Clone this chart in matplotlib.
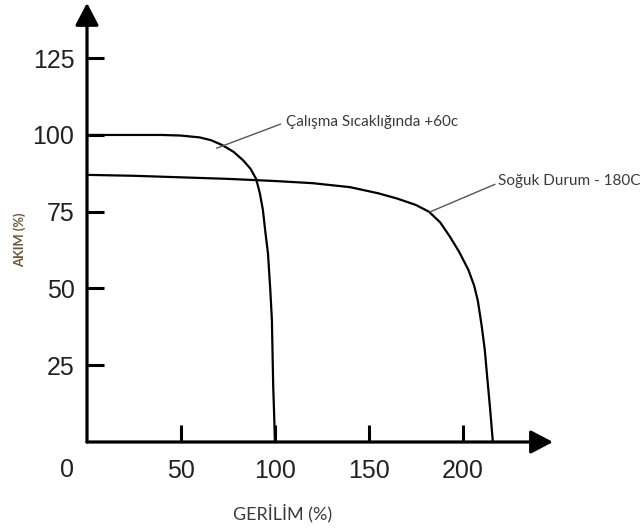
import matplotlib.pyplot as plt

# curve readings (voltage %, current %)
hot_x = [0, 20, 40, 50, 60, 66, 72, 78, 83, 87, 90, 92, 93.6, 95, 96.3, 97.5, 98.4, 99.1, 99.6, 100]
hot_y = [100, 100, 100, 99.8, 99.2, 98.3, 96.7, 94.5, 91.8, 89, 85.7, 81, 75.6, 68, 61.5, 50, 39.7, 18, 9, 0]

cold_x = [0, 25, 50, 75, 100, 120, 140, 155, 165, 175, 182, 188, 193, 198, 203, 206, 208, 210, 211.7, 213, 214.5, 216]
cold_y = [87, 86.7, 86.2, 85.7, 85, 84.3, 83, 81, 79.3, 77.2, 75, 71.5, 67, 62, 56, 51, 46, 38, 30, 21, 11, 0]

x_ticks = [50, 100, 150, 200]
y_ticks = [25, 50, 75, 100, 125]

hot_label = "Çalışma Sıcaklığında +60c"
cold_label = "Soğuk Durum - 180C"

fig = plt.figure(figsize=(6.4, 5.3), dpi=100)
ax = fig.add_axes([87/640, 88/530, 466/640, 436/530])
ax.set_xlim(0, 248)
ax.set_ylim(0, 142)
for s in ax.spines.values():
    s.set_visible(False)

# axes with arrow heads
arrow = dict(arrowstyle='-|>,head_length=0.8,head_width=0.42', lw=2.3, color='black',
             mutation_scale=17, shrinkA=0, shrinkB=0)
ax.annotate('', xy=(248, 0), xytext=(0, 0), arrowprops=arrow, annotation_clip=False)
ax.annotate('', xy=(0, 143), xytext=(0, 0), arrowprops=arrow, annotation_clip=False)

ax.plot(hot_x, hot_y, color='black', lw=1.6, clip_on=False)
ax.plot(cold_x, cold_y, color='black', lw=1.6, clip_on=False)

ax.set_xticks(x_ticks)
ax.set_yticks(y_ticks)
ax.tick_params(direction='in', length=12, width=2.2, labelsize=18, color='black')
ax.tick_params(axis='x', pad=12)
ax.tick_params(axis='y', pad=9)
for lab in ax.get_xticklabels() + ax.get_yticklabels():
    lab.set_family('Liberation Sans')
    lab.set_color('#222222')
ax.text(-10.5, -5.3, "0", fontsize=18, family='Liberation Sans', color='#222222',
        ha='center', va='top')

ax.annotate(hot_label, xy=(69, 95.7), xytext=(105.9, 104.2), fontsize=11, family='Lato',
            color='#3a3a3a', ha='left', va='center',
            arrowprops=dict(arrowstyle='-', color='#555555', lw=1, relpos=(0, 0.5),
                            shrinkA=2, shrinkB=0))
ax.annotate(cold_label, xy=(182.4, 74.9), xytext=(218.6, 85), fontsize=11, family='Lato',
            color='#3a3a3a', ha='left', va='center',
            arrowprops=dict(arrowstyle='-', color='#555555', lw=1, relpos=(0, 0.35),
                            shrinkA=0, shrinkB=0), annotation_clip=False)

fig.text(283/640, 1 - 513/530, "GERİLİM (%)", fontsize=13, family='Lato', color='#3a3a3a',
         ha='center', va='center')
fig.text(20/640, 1 - 240/530, "AKIM (%)", fontsize=9.3, family='Lato', weight='bold',
         color='#6b5536', ha='center', va='center', rotation=90)

fig.savefig('out.png', dpi=100)
